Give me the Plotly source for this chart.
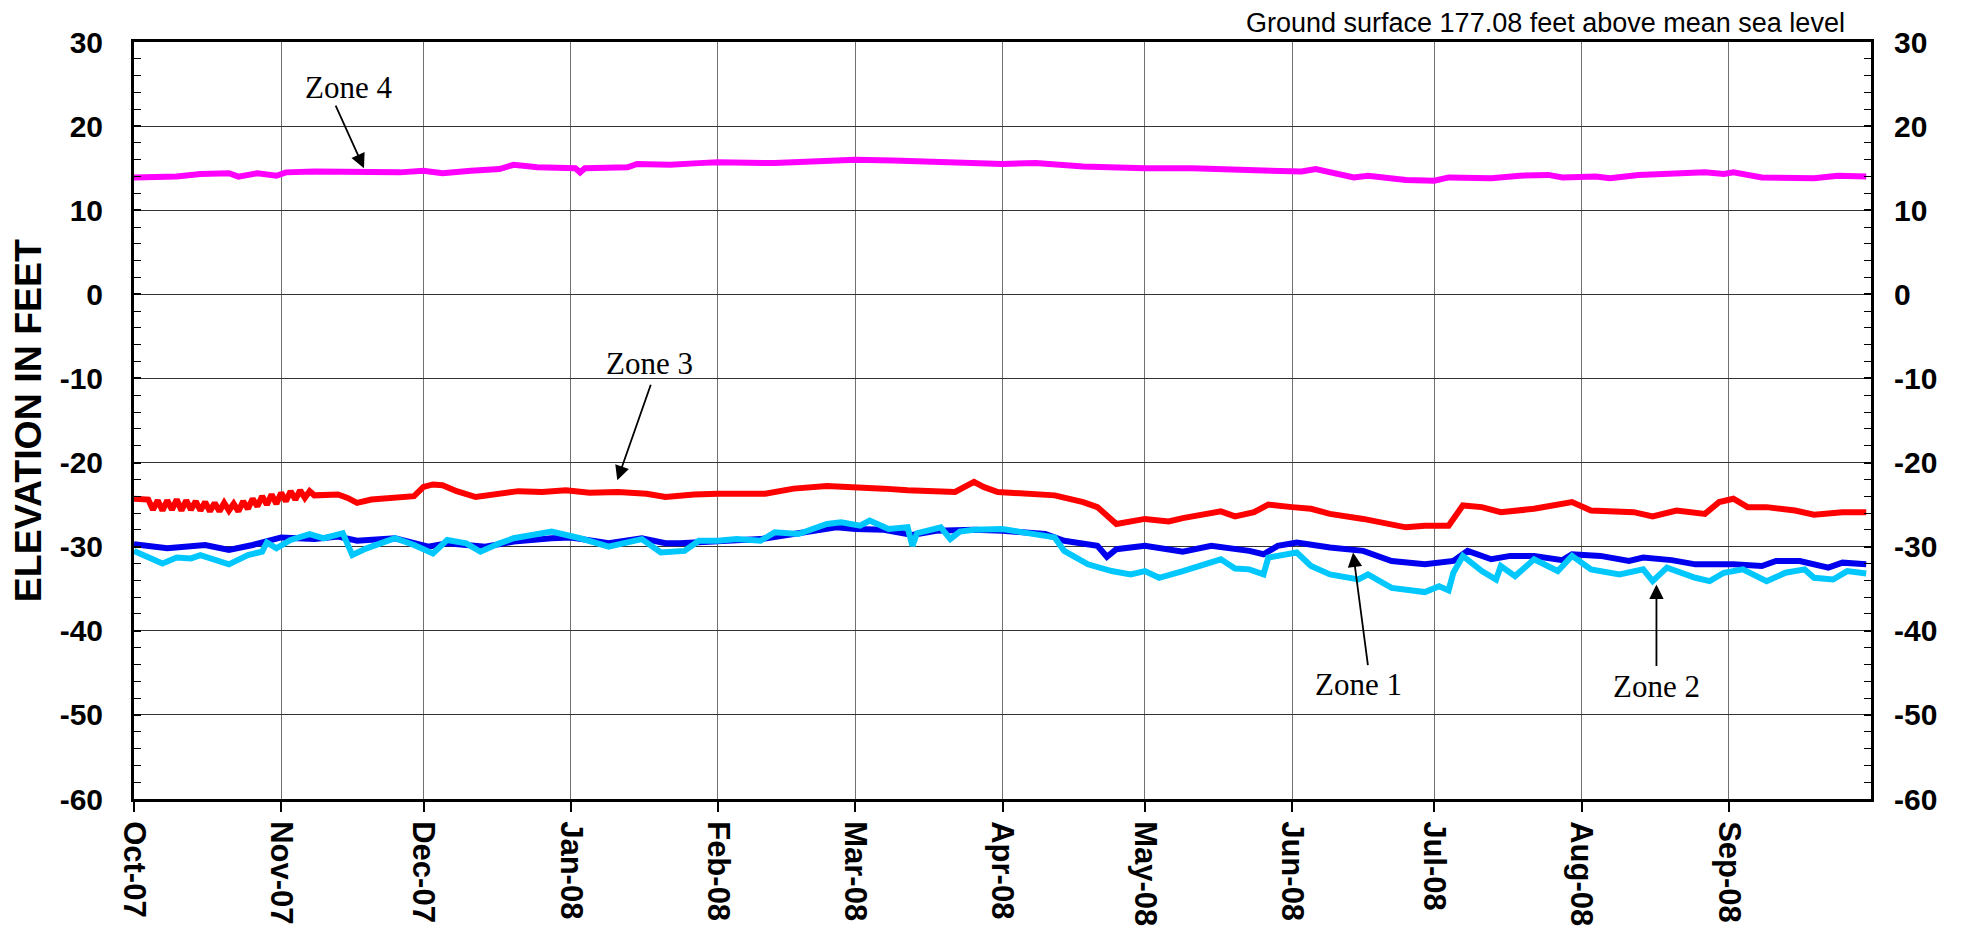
import plotly.graph_objects as go

# ---------------- data ----------------
month_ticks = ["2007-10-01", "2007-11-01", "2007-12-01", "2008-01-01", "2008-02-01", "2008-03-01",
               "2008-04-01", "2008-05-01", "2008-06-01", "2008-07-01", "2008-08-01", "2008-09-01"]
month_labels = ["Oct-07", "Nov-07", "Dec-07", "Jan-08", "Feb-08", "Mar-08",
                "Apr-08", "May-08", "Jun-08", "Jul-08", "Aug-08", "Sep-08"]
y_ticks = [-60, -50, -40, -30, -20, -10, 0, 10, 20, 30]
y_labels = ["-60", "-50", "-40", "-30", "-20", "-10", "0", "10", "20", "30"]

zone4_dates = ["2007-10-01", "2007-10-06", "2007-10-10", "2007-10-15", "2007-10-21", "2007-10-23",
               "2007-10-27", "2007-10-31", "2007-11-02", "2007-11-08", "2007-11-17", "2007-11-26",
               "2007-12-01", "2007-12-05", "2007-12-11", "2007-12-17", "2007-12-20", "2007-12-25",
               "2008-01-02", "2008-01-03", "2008-01-04", "2008-01-13", "2008-01-15", "2008-01-22",
               "2008-01-28", "2008-02-01", "2008-02-13", "2008-03-01", "2008-03-09", "2008-03-17",
               "2008-03-25", "2008-04-01", "2008-04-08", "2008-04-18", "2008-05-01", "2008-05-11",
               "2008-05-21", "2008-05-28", "2008-06-03", "2008-06-06", "2008-06-09", "2008-06-14",
               "2008-06-17", "2008-06-25", "2008-07-01", "2008-07-04", "2008-07-13", "2008-07-19",
               "2008-07-25", "2008-07-28", "2008-08-04", "2008-08-07", "2008-08-13", "2008-08-22",
               "2008-08-27", "2008-08-31", "2008-09-02", "2008-09-08", "2008-09-19", "2008-09-24",
               "2008-09-30"]
zone4_vals = [13.9, 13.9, 14.0, 14.3, 14.4, 14.0,
              14.4, 14.1, 14.5, 14.6, 14.5, 14.5,
              14.7, 14.4, 14.7, 14.9, 15.4, 15.1,
              15.0, 14.5, 15.0, 15.1, 15.5, 15.4,
              15.6, 15.7, 15.6, 16.0, 15.9, 15.7,
              15.5, 15.5, 15.6, 15.2, 15.0, 15.0,
              14.8, 14.7, 14.6, 14.9, 14.5, 13.9,
              14.1, 13.6, 13.5, 13.9, 13.8, 14.1,
              14.2, 13.9, 14.0, 13.8, 14.2, 14.4,
              14.5, 14.3, 14.5, 13.9, 13.8, 14.1,
              14.0]

zone3_dates = ["2007-10-01", "2007-10-04", "2007-10-05", "2007-10-06", "2007-10-07", "2007-10-08",
               "2007-10-09", "2007-10-10", "2007-10-11", "2007-10-12", "2007-10-13", "2007-10-14",
               "2007-10-15", "2007-10-16", "2007-10-17", "2007-10-18", "2007-10-19", "2007-10-20",
               "2007-10-21", "2007-10-22", "2007-10-23", "2007-10-24", "2007-10-25", "2007-10-26",
               "2007-10-27", "2007-10-28", "2007-10-29", "2007-10-30", "2007-10-31", "2007-11-01",
               "2007-11-02", "2007-11-03", "2007-11-04", "2007-11-05", "2007-11-06", "2007-11-07",
               "2007-11-08", "2007-11-10", "2007-11-13", "2007-11-15", "2007-11-17", "2007-11-20",
               "2007-11-25", "2007-11-29", "2007-12-01", "2007-12-03", "2007-12-05", "2007-12-08",
               "2007-12-12", "2007-12-16", "2007-12-21", "2007-12-26", "2007-12-31", "2008-01-05",
               "2008-01-11", "2008-01-17", "2008-01-21", "2008-01-27", "2008-02-01", "2008-02-11",
               "2008-02-17", "2008-02-24", "2008-03-01", "2008-03-07", "2008-03-12", "2008-03-22",
               "2008-03-26", "2008-03-28", "2008-03-31", "2008-04-06", "2008-04-12", "2008-04-18",
               "2008-04-21", "2008-04-25", "2008-05-01", "2008-05-06", "2008-05-09", "2008-05-17",
               "2008-05-20", "2008-05-24", "2008-05-27", "2008-06-01", "2008-06-05", "2008-06-09",
               "2008-06-16", "2008-06-25", "2008-06-29", "2008-07-04", "2008-07-07", "2008-07-11",
               "2008-07-15", "2008-07-22", "2008-07-30", "2008-08-03", "2008-08-12", "2008-08-16",
               "2008-08-21", "2008-08-27", "2008-08-30", "2008-09-02", "2008-09-05", "2008-09-09",
               "2008-09-15", "2008-09-19", "2008-09-25", "2008-09-30"]
zone3_vals = [-24.3, -24.4, -25.6, -24.5, -25.7, -24.5,
              -25.6, -24.4, -25.7, -24.5, -25.6, -24.6,
              -25.7, -24.7, -25.8, -24.8, -25.8, -24.8,
              -25.7, -24.9, -25.8, -24.6, -25.5, -24.3,
              -25.2, -24.0, -25.0, -23.8, -24.9, -23.6,
              -24.6, -23.4, -24.4, -23.3, -24.2, -23.4,
              -23.9, -23.9, -23.8, -24.2, -24.8, -24.4,
              -24.2, -24.0, -22.9, -22.6, -22.7, -23.4,
              -24.1, -23.8, -23.4, -23.5, -23.3, -23.6,
              -23.5, -23.7, -24.1, -23.8, -23.7, -23.7,
              -23.1, -22.8, -22.9, -23.1, -23.3, -23.5,
              -22.3, -22.9, -23.5, -23.7, -23.9, -24.7,
              -25.3, -27.3, -26.7, -27.0, -26.6, -25.8,
              -26.4, -25.9, -25.0, -25.3, -25.5, -26.1,
              -26.7, -27.7, -27.5, -27.5, -25.1, -25.3,
              -25.9, -25.5, -24.7, -25.7, -25.9, -26.4,
              -25.7, -26.1, -24.7, -24.3, -25.3, -25.3,
              -25.7, -26.2, -25.9, -25.9]

zone1_dates = ["2007-10-01", "2007-10-08", "2007-10-16", "2007-10-21", "2007-10-26", "2007-11-01",
               "2007-11-08", "2007-11-13", "2007-11-17", "2007-11-25", "2007-12-02", "2007-12-06",
               "2007-12-14", "2007-12-20", "2007-12-28", "2008-01-01", "2008-01-07", "2008-01-09",
               "2008-01-16", "2008-01-21", "2008-01-24", "2008-02-01", "2008-02-10", "2008-02-18",
               "2008-02-26", "2008-03-01", "2008-03-07", "2008-03-13", "2008-03-18", "2008-03-26",
               "2008-04-01", "2008-04-10", "2008-04-14", "2008-04-21", "2008-04-23", "2008-04-25",
               "2008-05-01", "2008-05-09", "2008-05-15", "2008-05-23", "2008-05-26", "2008-05-29",
               "2008-06-02", "2008-06-09", "2008-06-16", "2008-06-22", "2008-06-29", "2008-07-05",
               "2008-07-08", "2008-07-13", "2008-07-17", "2008-07-22", "2008-07-28", "2008-07-30",
               "2008-08-05", "2008-08-11", "2008-08-14", "2008-08-20", "2008-08-25", "2008-09-02",
               "2008-09-08", "2008-09-11", "2008-09-16", "2008-09-22", "2008-09-25", "2008-09-30"]
zone1_vals = [-29.7, -30.2, -29.8, -30.4, -29.8, -28.9,
              -29.1, -28.8, -29.3, -29.0, -30.0, -29.6,
              -30.0, -29.4, -29.0, -28.9, -29.4, -29.6,
              -29.0, -29.6, -29.6, -29.3, -29.1, -28.4,
              -27.7, -27.9, -28.0, -28.6, -28.1, -28.0,
              -28.1, -28.5, -29.3, -29.9, -31.2, -30.3,
              -29.9, -30.6, -29.9, -30.5, -30.9, -29.9,
              -29.5, -30.1, -30.5, -31.7, -32.1, -31.7,
              -30.5, -31.5, -31.1, -31.1, -31.6, -30.9,
              -31.1, -31.7, -31.3, -31.6, -32.1, -32.1,
              -32.3, -31.7, -31.7, -32.5, -31.9, -32.1]

zone2_dates = ["2007-10-01", "2007-10-04", "2007-10-07", "2007-10-10", "2007-10-13", "2007-10-15",
               "2007-10-18", "2007-10-21", "2007-10-25", "2007-10-28", "2007-10-29", "2007-10-31",
               "2007-11-03", "2007-11-07", "2007-11-10", "2007-11-14", "2007-11-16", "2007-11-19",
               "2007-11-25", "2007-11-29", "2007-12-03", "2007-12-06", "2007-12-10", "2007-12-13",
               "2007-12-17", "2007-12-20", "2007-12-28", "2008-01-03", "2008-01-09", "2008-01-16",
               "2008-01-20", "2008-01-25", "2008-01-28", "2008-02-01", "2008-02-05", "2008-02-10",
               "2008-02-13", "2008-02-18", "2008-02-24", "2008-02-27", "2008-03-02", "2008-03-04",
               "2008-03-08", "2008-03-12", "2008-03-13", "2008-03-14", "2008-03-19", "2008-03-21",
               "2008-03-23", "2008-03-26", "2008-04-01", "2008-04-07", "2008-04-12", "2008-04-14",
               "2008-04-19", "2008-04-24", "2008-04-28", "2008-05-01", "2008-05-04", "2008-05-09",
               "2008-05-17", "2008-05-20", "2008-05-23", "2008-05-26", "2008-05-27", "2008-06-02",
               "2008-06-05", "2008-06-09", "2008-06-15", "2008-06-17", "2008-06-22", "2008-06-29",
               "2008-07-02", "2008-07-04", "2008-07-05", "2008-07-07", "2008-07-11", "2008-07-14",
               "2008-07-15", "2008-07-18", "2008-07-22", "2008-07-27", "2008-07-30", "2008-08-03",
               "2008-08-09", "2008-08-14", "2008-08-16", "2008-08-19", "2008-08-25", "2008-08-28",
               "2008-08-31", "2008-09-04", "2008-09-09", "2008-09-13", "2008-09-17", "2008-09-19",
               "2008-09-23", "2008-09-26", "2008-09-30"]
zone2_vals = [-30.5, -31.3, -32.0, -31.3, -31.4, -31.0,
              -31.6, -32.1, -31.0, -30.6, -29.5, -30.2,
              -29.2, -28.5, -29.0, -28.4, -31.0, -30.2,
              -29.0, -29.8, -30.8, -29.2, -29.6, -30.6,
              -29.6, -29.0, -28.2, -29.0, -30.0, -29.1,
              -30.7, -30.5, -29.3, -29.3, -29.1, -29.3,
              -28.3, -28.5, -27.3, -27.1, -27.5, -26.9,
              -27.9, -27.7, -29.9, -28.4, -27.7, -29.1,
              -28.2, -28.0, -27.9, -28.5, -28.9, -30.5,
              -32.1, -32.9, -33.3, -32.9, -33.7, -32.9,
              -31.5, -32.6, -32.7, -33.3, -31.3, -30.7,
              -32.3, -33.3, -33.9, -33.3, -34.9, -35.4,
              -34.7, -35.2, -33.1, -31.1, -32.9, -33.9,
              -32.3, -33.5, -31.5, -32.9, -31.1, -32.7,
              -33.3, -32.7, -34.1, -32.5, -33.7, -34.1,
              -33.1, -32.7, -34.1, -33.1, -32.7, -33.7,
              -33.9, -32.9, -33.2]

title_text = "Ground surface 177.08 feet above mean sea level"
y_title = "ELEVATION IN FEET"

# ---------------- figure ----------------
SANS = "Arial, Liberation Sans, sans-serif"
SERIF = "Times New Roman, Liberation Serif, serif"
LW = 6

fig = go.Figure()
fig.add_trace(go.Scatter(x=zone1_dates, y=zone1_vals, mode="lines", name="Zone 1",
                         line=dict(color="#0000EE", width=LW)))
fig.add_trace(go.Scatter(x=zone2_dates, y=zone2_vals, mode="lines", name="Zone 2",
                         line=dict(color="#00C8FF", width=LW)))
fig.add_trace(go.Scatter(x=zone3_dates, y=zone3_vals, mode="lines", name="Zone 3",
                         line=dict(color="#FF0000", width=LW)))
fig.add_trace(go.Scatter(x=zone4_dates, y=zone4_vals, mode="lines", name="Zone 4",
                         line=dict(color="#FF00FF", width=LW)))
# carrier for the right-hand axis (invisible)
fig.add_trace(go.Scatter(x=zone4_dates, y=zone4_vals, mode="lines", yaxis="y2",
                         line=dict(width=0), hoverinfo="skip", showlegend=False))

yaxis_common = dict(
    range=[-60, 30], tickvals=y_ticks, ticktext=y_labels,
    ticks="inside", ticklen=7, tickwidth=1.5, tickcolor="black",
    minor=dict(dtick=2, ticks="inside", ticklen=7, tickwidth=1.2, tickcolor="black", showgrid=False),
    tickfont=dict(family=SANS, size=30, color="black", weight="bold"),
    showline=True, linewidth=3, linecolor="black", zeroline=False, automargin=False,
)

# the page adds an 8 px body margin, so the figure is sized/offset to compensate
fig.update_layout(
    width=1955, height=923,
    margin=dict(l=126, r=92, t=34, b=132),
    paper_bgcolor="white", plot_bgcolor="white",
    showlegend=False,
    xaxis=dict(
        type="date", range=["2007-10-01", "2008-10-01"],
        tickvals=month_ticks, ticktext=month_labels, tickangle=90,
        ticks="outside", ticklen=10, tickwidth=1.5, tickcolor="black",
        tickfont=dict(family=SANS, size=31, color="black", weight="bold"),
        ticklabelstandoff=3,
        showgrid=True, gridcolor="#707070", gridwidth=1.2,
        showline=True, linewidth=3, linecolor="black", mirror=True,
        zeroline=False, automargin=False,
    ),
    yaxis=dict(**yaxis_common, showgrid=True, gridcolor="#333333", gridwidth=1.2,
               ticklabelstandoff=22),
    yaxis2=dict(**yaxis_common, overlaying="y", side="right", anchor="x", showgrid=False,
                ticklabelstandoff=14),
)

ann = []
# y-axis title
ann.append(dict(text=y_title, xref="paper", yref="paper", x=-0.0612, y=0.5, xanchor="center",
                yanchor="middle", textangle=-90, showarrow=False,
                font=dict(family=SANS, size=37.5, color="black", weight="bold")))
# top-right note
ann.append(dict(text=title_text, xref="paper", yref="paper", x=0.9862, y=1.0251, xanchor="right",
                yanchor="middle", showarrow=False,
                font=dict(family=SANS, size=27, color="black")))

# zone labels
labels = [("Zone 4", "2007-11-15 07:00", 24.6),
          ("Zone 3", "2008-01-17 14:00", -8.2),
          ("Zone 1", "2008-06-15 00:00", -46.4),
          ("Zone 2", "2008-08-16 17:00", -46.6)]
for txt, xd, yv in labels:
    ann.append(dict(text=txt, x=xd, y=yv, xref="x", yref="y", showarrow=False,
                    xanchor="center", yanchor="middle",
                    font=dict(family=SERIF, size=31, color="black")))

# arrows (head at data point, tail offset in pixels)
arrows = [("2007-11-18 11:00", 15.0, -29, -64),
          ("2008-01-10 20:00", -22.1, 34, -97),
          ("2008-06-13 21:00", -30.7, 15, 114),
          ("2008-08-16 19:00", -34.5, 0, 83)]
for xd, yv, axp, ayp in arrows:
    ann.append(dict(text="", x=xd, y=yv, xref="x", yref="y", ax=axp, ay=ayp,
                    showarrow=True, arrowhead=2, arrowsize=1.6, arrowwidth=1.8,
                    arrowcolor="black", standoff=0))

fig.update_layout(annotations=ann)
fig.write_html("out.html")
